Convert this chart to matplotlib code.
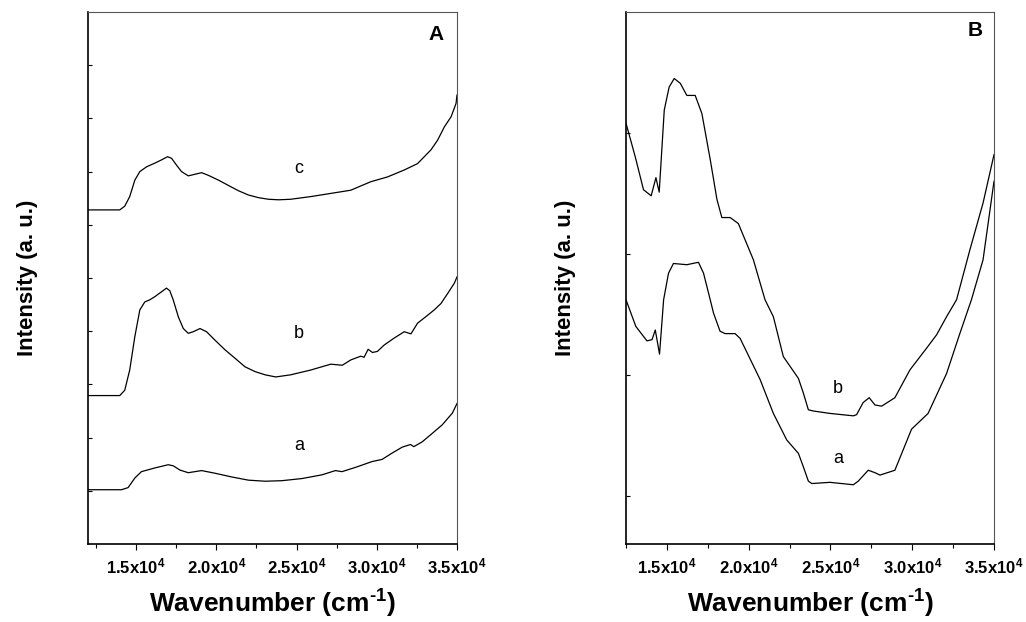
import numpy as np
import matplotlib
matplotlib.use('Agg')
import matplotlib.pyplot as plt

plt.rcParams['font.family'] = 'Liberation Sans'
plt.rcParams['font.weight'] = 'bold'
plt.rcParams['mathtext.fontset'] = 'custom'
plt.rcParams['mathtext.rm'] = 'Liberation Sans:bold'
plt.rcParams['mathtext.bf'] = 'Liberation Sans:bold'
plt.rcParams['mathtext.it'] = 'Liberation Sans:bold'
plt.rcParams['mathtext.default'] = 'rm'

# Panel A: three offset spectra
a_wn = [12000, 14080, 14500, 14920, 15330, 16170, 17000, 17310, 17730, 18250, 19080,
        19920, 20960, 22000, 23040, 24080, 25330, 26580, 27420, 27830, 28670,
        29710, 30330, 30960, 31580, 32100, 32310, 32830, 33460, 34080, 34710, 35000]
a_int = [1.02, 1.02, 1.06, 1.24, 1.36, 1.43, 1.49, 1.47, 1.39, 1.34, 1.38,
         1.33, 1.26, 1.20, 1.18, 1.19, 1.23, 1.30, 1.38, 1.36, 1.44,
         1.55, 1.59, 1.71, 1.82, 1.87, 1.83, 1.92, 2.08, 2.24, 2.46, 2.64]

b_wn = [12000, 13980, 14290, 14600, 14920, 15230, 15540, 15850, 16170, 16580, 16890,
        17100, 17310, 17630, 17940, 18250, 18560, 18980, 19390, 19920, 20540,
        21170, 21790, 22420, 23040, 23700, 24630, 25880, 27130, 27850, 28380,
        29000, 29210, 29460, 29730, 30040, 30460, 31080, 31710, 32130, 32540,
        33170, 33580, 34000, 34420, 34830, 35000]
b_int = [2.79, 2.79, 2.89, 3.27, 3.90, 4.40, 4.55, 4.59, 4.65, 4.74, 4.81,
         4.76, 4.59, 4.27, 4.05, 3.96, 3.99, 4.05, 3.99, 3.83, 3.65,
         3.49, 3.33, 3.24, 3.18, 3.14, 3.18, 3.27, 3.38, 3.36, 3.46,
         3.53, 3.51, 3.66, 3.60, 3.62, 3.74, 3.87, 3.99, 3.95, 4.15,
         4.30, 4.40, 4.52, 4.71, 4.90, 5.02]

c_wn = [12000, 13980, 14290, 14600, 14920, 15230, 15650, 16170, 16580, 16960, 17210,
        17520, 17830, 18250, 18670, 19080, 19500, 20130, 20750, 21380, 22000,
        22630, 23250, 23880, 24630, 25880, 27130, 28380, 29000, 29630, 30670,
        31710, 32540, 33380, 33790, 34210, 34630, 34940, 35000]
c_int = [6.28, 6.28, 6.35, 6.53, 6.84, 7.00, 7.09, 7.16, 7.22, 7.28, 7.25,
         7.12, 7.00, 6.92, 6.95, 6.98, 6.93, 6.84, 6.74, 6.64, 6.56,
         6.51, 6.48, 6.47, 6.48, 6.53, 6.59, 6.65, 6.73, 6.81, 6.90,
         7.03, 7.15, 7.41, 7.59, 7.84, 8.03, 8.28, 8.44]

# Panel B: two spectra
ba_wn = [12500, 13100, 13780, 14090, 14290, 14550, 14800, 15100, 15400, 16220, 16930,
         17240, 17650, 17850, 18250, 18560, 19170, 19480, 20700, 21510, 22330,
         23040, 23340, 23650, 23860, 24970, 26400, 26700, 27310, 27720, 28030,
         28940, 29960, 30970, 32100, 32910, 33620, 34330, 35000]
ba_int = [1.62, 1.40, 1.28, 1.29, 1.37, 1.17, 1.62, 1.84, 1.92, 1.91, 1.93,
          1.84, 1.62, 1.51, 1.36, 1.34, 1.34, 1.30, 0.96, 0.68, 0.46,
          0.35, 0.24, 0.12, 0.10, 0.11, 0.09, 0.12, 0.21, 0.19, 0.17,
          0.21, 0.55, 0.68, 1.01, 1.34, 1.62, 1.95, 2.60]

bb_wn = [12500, 13070, 13570, 14040, 14330, 14530, 14840, 15140, 15450, 15820, 16220,
         16730, 17140, 17650, 18060, 18360, 18870, 19370, 20290, 21000, 21510,
         22120, 23040, 23340, 23650, 23950, 24970, 26400, 26600, 27000, 27370,
         27720, 28130, 28940, 29860, 30880, 31490, 32100, 32710, 33520, 34330, 35000]
bb_int = [3.08, 2.80, 2.53, 2.48, 2.63, 2.51, 3.19, 3.38, 3.45, 3.41, 3.31,
          3.31, 3.16, 2.78, 2.45, 2.30, 2.30, 2.25, 1.95, 1.62, 1.48,
          1.15, 0.97, 0.85, 0.71, 0.70, 0.68, 0.66, 0.67, 0.77, 0.81,
          0.75, 0.74, 0.81, 1.04, 1.22, 1.33, 1.48, 1.62, 2.03, 2.42, 2.82]

xticks = [15000, 20000, 25000, 30000, 35000]
xticklabels = ['1.5x10$^4$', '2.0x10$^4$', '2.5x10$^4$', '3.0x10$^4$', '3.5x10$^4$']
minor_ticks = [12500, 17500, 22500, 27500, 32500]

fig = plt.figure(figsize=(10.26, 6.22), dpi=100)
axA = fig.add_axes([88 / 1026, 78 / 622, 369 / 1026, 532 / 622])
axB = fig.add_axes([626 / 1026, 78 / 622, 368 / 1026, 532 / 622])


def style(ax):
    ax.set_xticks(xticks)
    ax.set_xticklabels(xticklabels, fontsize=12, fontweight='bold')
    ax.set_xticks(minor_ticks, minor=True)
    ax.tick_params(axis='x', which='major', direction='out', length=4, width=0.8, pad=5)
    ax.tick_params(axis='x', which='minor', direction='out', length=3, width=0.8)
    ax.tick_params(axis='y', direction='in', length=3, width=0.8, labelleft=False)
    for side in ['left', 'bottom']:
        ax.spines[side].set_linewidth(1.2)
    for side in ['top', 'right']:
        ax.spines[side].set_linewidth(0.8)
        ax.spines[side].set_color('#555555')
    ax.set_xlabel(r'Wavenumber (cm$^{\text{-1}}$)', fontsize=19, fontweight='bold', labelpad=8)
    ax.set_ylabel('Intensity (a. u.)', fontsize=16, fontweight='bold', labelpad=36)


axA.plot(a_wn, a_int, color='black', lw=0.9)
axA.plot(b_wn, b_int, color='black', lw=0.9)
axA.plot(c_wn, c_int, color='black', lw=0.9)
axA.set_xlim(12000, 35000)
axA.set_ylim(0, 10)
axA.set_yticks(np.arange(1, 10))
style(axA)
axA.text(25150, 1.86, 'a', fontsize=13, fontweight='normal', ha='center', va='center')
axA.text(25150, 3.96, 'b', fontsize=13, fontweight='normal', ha='center', va='center')
axA.text(25150, 7.06, 'c', fontsize=13, fontweight='normal', ha='center', va='center')
axA.text(33700, 9.57, 'A', fontsize=15, fontweight='bold', ha='center', va='center')

axB.plot(ba_wn, ba_int, color='black', lw=0.9)
axB.plot(bb_wn, bb_int, color='black', lw=0.9)
axB.set_xlim(12500, 35000)
axB.set_ylim(-0.4, 4.0)
axB.set_yticks([0, 1, 2, 3])
style(axB)
axB.text(25450, 0.31, 'a', fontsize=13, fontweight='normal', ha='center', va='center')
axB.text(25450, 0.89, 'b', fontsize=13, fontweight='normal', ha='center', va='center')
axB.text(33820, 3.85, 'B', fontsize=15, fontweight='bold', ha='center', va='center')

fig.savefig('out.png', dpi=100)
